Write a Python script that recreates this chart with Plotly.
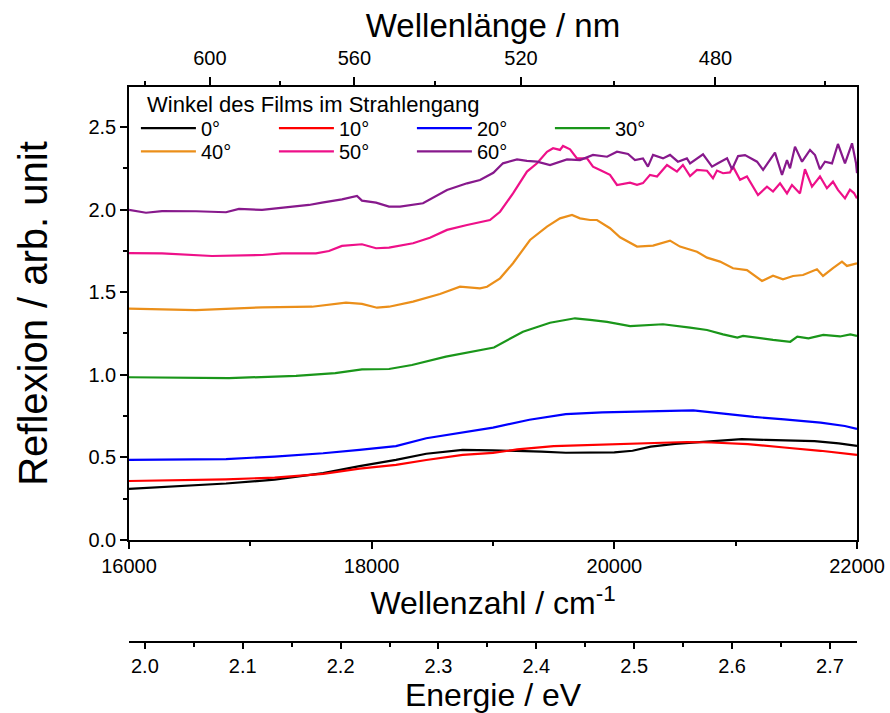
import plotly.graph_objects as go

# Reflectance spectra of a film at different tilt angles in the beam path
# (wavenumber in cm^-1, reflectance in arbitrary units)

REFL_0 = [
    (16000, 0.310), (16400, 0.325), (16800, 0.342), (17200, 0.365), (17600, 0.405),
    (17900, 0.447), (18200, 0.485), (18450, 0.522), (18750, 0.545), (19000, 0.543),
    (19200, 0.540), (19400, 0.535), (19600, 0.528), (19800, 0.528), (20000, 0.530),
    (20150, 0.540), (20300, 0.565), (20500, 0.582), (20700, 0.593), (20900, 0.603),
    (21050, 0.611), (21250, 0.606), (21450, 0.602), (21650, 0.598), (21850, 0.585),
    (22000, 0.570),
]

REFL_10 = [
    (16000, 0.357), (16400, 0.362), (16800, 0.367), (17200, 0.378), (17600, 0.400),
    (17900, 0.432), (18200, 0.455), (18450, 0.484), (18750, 0.515), (19000, 0.527),
    (19200, 0.548), (19500, 0.568), (19900, 0.578), (20300, 0.585), (20600, 0.593),
    (20800, 0.590), (21100, 0.580), (21400, 0.560), (21700, 0.540), (22000, 0.515),
]

REFL_20 = [
    (16000, 0.485), (16400, 0.486), (16800, 0.490), (17200, 0.505), (17600, 0.525),
    (17900, 0.545), (18200, 0.568), (18450, 0.616), (18750, 0.652), (19000, 0.680),
    (19300, 0.728), (19600, 0.762), (19900, 0.772), (20200, 0.776), (20450, 0.782),
    (20650, 0.785), (20900, 0.765), (21150, 0.745), (21400, 0.730), (21700, 0.710),
    (21900, 0.690), (22000, 0.672),
]

REFL_30 = [
    (16000, 0.985), (16400, 0.982), (16824, 0.980), (17376, 0.993), (17700, 1.010),
    (17920, 1.033), (18143, 1.035), (18332, 1.059), (18612, 1.110), (19008, 1.165),
    (19115, 1.210), (19247, 1.261), (19470, 1.315), (19676, 1.342), (19800, 1.332),
    (19940, 1.320), (20130, 1.295), (20270, 1.300), (20401, 1.306), (20624, 1.285),
    (20764, 1.271), (20896, 1.245), (21014, 1.225), (21061, 1.235), (21200, 1.220),
    (21308, 1.211), (21450, 1.200), (21508, 1.231), (21600, 1.220), (21722, 1.241),
    (21860, 1.232), (21945, 1.245), (22000, 1.235),
]

REFL_40 = [
    (16000, 1.400), (16549, 1.392), (17097, 1.408), (17508, 1.412), (17788, 1.437),
    (17920, 1.429), (18044, 1.406), (18143, 1.412), (18341, 1.443), (18563, 1.489),
    (18728, 1.533), (18893, 1.523), (18951, 1.533), (19058, 1.584), (19165, 1.675),
    (19305, 1.816), (19445, 1.897), (19552, 1.947), (19651, 1.967), (19717, 1.947),
    (19800, 1.937), (19857, 1.937), (19964, 1.887), (20047, 1.832), (20187, 1.776),
    (20319, 1.782), (20459, 1.812), (20541, 1.776), (20681, 1.745), (20764, 1.709),
    (20871, 1.685), (20978, 1.645), (21093, 1.634), (21217, 1.568), (21308, 1.600),
    (21390, 1.578), (21473, 1.598), (21555, 1.604), (21670, 1.639), (21720, 1.598),
    (21802, 1.645), (21876, 1.685), (21917, 1.659), (22000, 1.675),
]

REFL_50 = [
    (16000, 1.737), (16272, 1.735), (16684, 1.719), (17097, 1.725), (17260, 1.735),
    (17541, 1.735), (17648, 1.749), (17755, 1.780), (17920, 1.790), (18036, 1.766),
    (18143, 1.770), (18341, 1.796), (18480, 1.830), (18621, 1.877), (18786, 1.907),
    (18975, 1.937), (19058, 1.987), (19165, 2.098), (19280, 2.230), (19363, 2.280),
    (19445, 2.350), (19495, 2.371), (19552, 2.361), (19577, 2.385), (19635, 2.365),
    (19692, 2.310), (19775, 2.310), (19824, 2.260), (19882, 2.240), (19964, 2.210),
    (20022, 2.149), (20129, 2.163), (20187, 2.150), (20236, 2.160), (20294, 2.210),
    (20352, 2.200), (20434, 2.270), (20516, 2.230), (20565, 2.270), (20624, 2.203),
    (20681, 2.240), (20764, 2.235), (20813, 2.190), (20846, 2.236), (20896, 2.220),
    (20953, 2.225), (20978, 2.260), (21036, 2.180), (21093, 2.200), (21184, 2.088),
    (21258, 2.139), (21308, 2.109), (21366, 2.159), (21423, 2.098), (21464, 2.149),
    (21530, 2.098), (21571, 2.244), (21629, 2.139), (21695, 2.200), (21752, 2.129),
    (21802, 2.169), (21843, 2.119), (21901, 2.068), (21942, 2.120), (21975, 2.100),
    (22000, 2.068),
]

REFL_60 = [
    (16000, 1.998), (16140, 1.981), (16272, 1.991), (16552, 1.990), (16799, 1.984),
    (16906, 2.004), (17097, 1.998), (17294, 2.014), (17483, 2.028), (17590, 2.042),
    (17755, 2.062), (17879, 2.082), (17920, 2.054), (18036, 2.042), (18143, 2.018),
    (18234, 2.018), (18423, 2.038), (18621, 2.119), (18786, 2.159), (18893, 2.179),
    (19003, 2.223), (19082, 2.280), (19198, 2.304), (19280, 2.295), (19363, 2.290),
    (19470, 2.270), (19610, 2.304), (19717, 2.300), (19824, 2.331), (19940, 2.320),
    (20022, 2.350), (20113, 2.337), (20170, 2.300), (20236, 2.310), (20277, 2.260),
    (20319, 2.331), (20401, 2.310), (20459, 2.331), (20524, 2.290), (20598, 2.310),
    (20624, 2.280), (20731, 2.335), (20805, 2.260), (20854, 2.280), (20929, 2.310),
    (20970, 2.244), (21020, 2.324), (21077, 2.330), (21176, 2.290), (21226, 2.240),
    (21324, 2.345), (21382, 2.210), (21423, 2.300), (21448, 2.250), (21489, 2.381),
    (21547, 2.290), (21613, 2.361), (21654, 2.330), (21695, 2.244), (21736, 2.290),
    (21794, 2.280), (21843, 2.397), (21901, 2.280), (21959, 2.401), (21992, 2.280),
    (22000, 2.220),
]

ANGLE_LABELS = ["0°", "10°", "20°", "30°", "40°", "50°", "60°"]
COLORS = ["#000000", "#ff0000", "#0000ff", "#1a961a", "#eb8f1a", "#ee1089", "#87198c"]
SPECTRA = [REFL_0, REFL_10, REFL_20, REFL_30, REFL_40, REFL_50, REFL_60]
LEGEND_TITLE = "Winkel des Films im Strahlengang"

WN_RANGE = [16000, 22000]
WN_MAJOR = [16000, 18000, 20000, 22000]
WN_MINOR = [17000, 19000, 21000]
WL_MAJOR = [600, 560, 520, 480]          # nm
WL_MINOR = [620, 580, 540, 500, 460]     # nm
CM_PER_EV = 8065.54
Y_RANGE = [0, 2.742]

FONT = "Liberation Sans, Arial, sans-serif"
TICK_FONT = dict(size=20)
AX = dict(showline=True, linecolor="black", linewidth=1.5, showgrid=False,
          zeroline=False, ticks="outside", tickcolor="black", tickwidth=1.5,
          automargin=False)
MINOR = dict(ticks="outside", tickcolor="black", tickwidth=1.5, ticklen=4)

fig = go.Figure()
for i, (label, color, data) in enumerate(zip(ANGLE_LABELS, COLORS, SPECTRA)):
    wn = [p[0] for p in data]
    r = [p[1] for p in data]
    fig.add_trace(go.Scatter(
        x=wn, y=r, mode="lines", name=label,
        line=dict(color=color, width=2.2),
        legend="legend" if i < 4 else "legend2",
    ))

# helper traces so the wavelength and energy axes get their own subplots
fig.add_trace(go.Scatter(x=[], y=[], xaxis="x2", yaxis="y", showlegend=False, hoverinfo="skip"))
fig.add_trace(go.Scatter(x=[], y=[], xaxis="x3", yaxis="y", showlegend=False, hoverinfo="skip"))

plot_bottom = 0.1838
LEG = dict(orientation="h", xanchor="left", yanchor="top", x=0.0095,
           bgcolor="rgba(0,0,0,0)", font=dict(size=20), entrywidth=68,
           itemwidth=55, traceorder="normal")

fig.update_layout(
    template="none",
    width=890, height=713,
    margin=dict(l=129, r=33, t=87, b=71, autoexpand=False),
    paper_bgcolor="white", plot_bgcolor="white",
    font=dict(family=FONT, color="black", size=20),
    xaxis=dict(
        **AX, range=WN_RANGE, domain=[0, 1], anchor="y",
        tickmode="array", tickvals=WN_MAJOR, ticktext=[str(v) for v in WN_MAJOR],
        ticklen=7, minor=dict(**MINOR, tickmode="array", tickvals=WN_MINOR),
        tickfont=TICK_FONT,
        title=dict(text="Wellenzahl / cm<sup>-1</sup>", font=dict(size=32), standoff=16),
    ),
    xaxis2=dict(
        **AX, range=WN_RANGE, overlaying="x", side="top", anchor="y",
        tickmode="array", tickvals=[1e7 / w for w in WL_MAJOR],
        ticktext=[str(w) for w in WL_MAJOR], ticklen=8, ticklabelstandoff=4,
        minor=dict(**MINOR, tickmode="array", tickvals=[1e7 / w for w in WL_MINOR]),
        tickfont=TICK_FONT,
        title=dict(text="Wellenlänge / nm", font=dict(size=33), standoff=0),
    ),
    xaxis3=dict(
        **AX, range=[WN_RANGE[0] / CM_PER_EV, WN_RANGE[1] / CM_PER_EV],
        overlaying="x", anchor="free", position=0, side="bottom",
        tick0=2.0, dtick=0.1, tickformat=".1f", ticklen=6,
        minor=dict(**MINOR, dtick=0.05),
        tickfont=TICK_FONT,
        title=dict(text="Energie / eV", font=dict(size=32), standoff=4),
    ),
    yaxis=dict(
        **AX, range=Y_RANGE, domain=[plot_bottom, 1], anchor="x", mirror=True,
        tick0=0, dtick=0.5, tickformat=".1f", ticklen=7,
        minor=dict(**MINOR, dtick=0.25),
        tickfont=TICK_FONT,
        title=dict(text="Reflexion / arb. unit", font=dict(size=40), standoff=28),
    ),
    legend=dict(**LEG, y=0.961),
    legend2=dict(**LEG, y=0.919),
    annotations=[dict(
        text=LEGEND_TITLE, xref="paper", yref="paper", x=0.022, y=0.9676,
        xanchor="left", yanchor="middle", showarrow=False, font=dict(size=22),
    )],
)

fig.write_html("out.html")
